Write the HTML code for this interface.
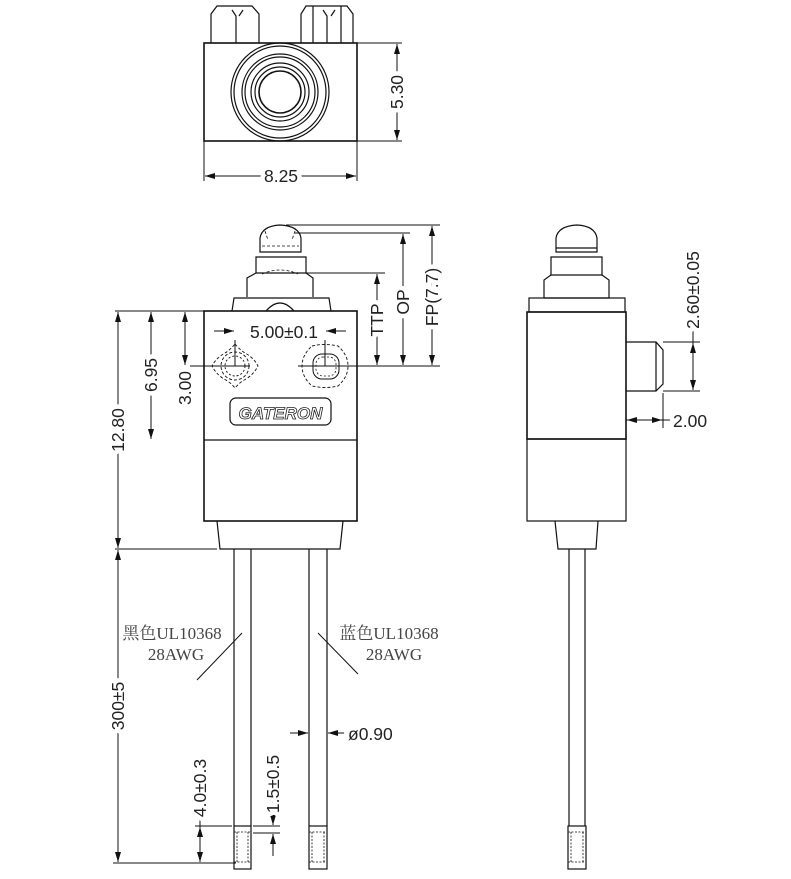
<!DOCTYPE html>
<html><head><meta charset="utf-8"><style>
html,body{margin:0;padding:0;background:#fff}
svg{display:block}
text{font-family:"Liberation Sans","Noto Sans CJK SC",sans-serif;fill:#222}
.h{paint-order:stroke;stroke:#fff;stroke-width:9px;stroke-linejoin:round}
.c{font-family:"Liberation Serif","Noto Serif CJK SC",serif;fill:#444}
</style></head><body>
<svg width="791" height="879" viewBox="0 0 791 879" xmlns="http://www.w3.org/2000/svg">
<defs>
<marker id="a" viewBox="0 0 10 6" refX="10" refY="3" markerWidth="10" markerHeight="6" orient="auto-start-reverse" markerUnits="userSpaceOnUse"><path d="M0,0 L10,3 L0,6 z" fill="#111"/></marker>
</defs>
<g fill="none" stroke="#111" stroke-width="1.2">
<path d="M211,43 V14 L217,6 H252 L259,14 V43"/>
<path d="M232,10 L236,16 V43 M239,16 L243,10"/>
<path d="M301,43 V14 L306,6 H347 L353,14 V43"/>
<path d="M313,6 V43 M323,10 L327,16 V43 M331,16 L335,10 M341,6 V43"/>
<rect x="204" y="43" width="153" height="98" stroke-width="1.6"/>
<circle cx="280" cy="92" r="49"/><circle cx="280" cy="92" r="46"/>
<circle cx="280" cy="92" r="38"/><circle cx="280" cy="92" r="35"/>
<circle cx="280" cy="92" r="29"/><circle cx="280" cy="92" r="25"/>
<circle cx="280" cy="92" r="21" stroke-width="1.6"/>
<path d="M357,43 H402 M357,141 H402 M204,141 V181 M357,141 V181" stroke-width="1"/>
<path d="M397,44 V140 M205,176 H356" stroke-width="1"/>

<path d="M260,252 V238 Q262,226 280,225 Q299,226 301,238 V252 Z"/>
<path d="M262,246 H299 M265,231 L268,240 M295,231 L292,240" stroke-width="0.8" stroke-dasharray="3,2"/>
<path d="M256,257 H306 V273 H256 Z"/>
<path d="M247,297 V278 L256,273 M306,273 L313,278 V297"/>
<path d="M262,274 Q280,266 298,274" stroke-dasharray="3,2" stroke-width="0.8"/>
<path d="M232,311 L234,298 H329 L331,311"/>
<path d="M266,311 Q280,295 294,311"/>
<rect x="204" y="311" width="153" height="210" stroke-width="1.6"/>
<path d="M204,440 H357"/>
<path d="M217,521 L220,549 H340 L343,521 M234,549 V826 M251,549 V826 M309,549 V826 M327,549 V826"/>
<path d="M235,344 Q240,350 245,353 Q254,358 258,366 Q254,374 246,379 Q240,382 235,388 Q230,382 224,379 Q216,374 212,366 Q216,358 225,353 Q230,350 235,344 Z" stroke-dasharray="3,2" stroke-width="0.9"/>
<circle cx="235" cy="366" r="14" stroke-dasharray="3,2" stroke-width="0.9"/>
<circle cx="235" cy="366" r="10" stroke-dasharray="2,2" stroke-width="0.9"/>
<path d="M312,346 Q325,343 338,346 Q348,355 348,366 Q348,377 338,386 Q325,389 312,386 Q302,377 302,366 Q302,355 312,346 Z" stroke-dasharray="3,2" stroke-width="0.9"/>
<rect x="313" y="354" width="26" height="25" rx="9" stroke-width="1"/>
<rect x="316" y="357" width="20" height="19" rx="7" stroke-dasharray="2,2" stroke-width="0.8"/>
<rect x="230" y="398" width="101" height="27" rx="6"/>
<g stroke-width="1">
<path d="M115,311 H205 M115,549 H217 M113,863 H236"/>
<path d="M235,340 V366 M190,366 H250 M325,340 V366 M298,366 H360 M306,366 H440"/>
<path d="M286,225 H440 M295,233 H410 M290,273 H385"/>
<path d="M118,312 V548 M151,312 V439 M185,312 V365"/>
<path d="M118,550 V862"/>
<path d="M377,274 V365 M403,234 V365 M432,226 V365"/>
<path d="M214,331 H234 M346,331 H326"/>
<path d="M200,766 V862 M273,766 V825 M273,834 V856 M290,733 H308 M344,733 H328"/>
</g>
<path d="M195,826 H232 M253,826 H280 M253,833 H280" stroke-width="1"/>
<path d="M242,633 L197,680 M318,633 L358,674" stroke-width="1"/>
<rect x="234" y="826" width="17" height="43"/><path d="M234,832 H251 M237,832 V862 M248,832 V862 M234,862 H251" stroke-dasharray="2,1.5" stroke-width="0.8"/>
<rect x="309" y="826" width="18" height="43"/><path d="M309,832 H327 M312,832 V862 M324,832 V862 M309,862 H327" stroke-dasharray="2,1.5" stroke-width="0.8"/>

<path d="M556,252 V238 Q558,226 577,225 Q595,226 597,238 V252 Z"/>
<path d="M556,248 H597"/>
<path d="M551,257 H602 V275 H551 Z"/>
<path d="M544,298 V280 L551,275 M602,275 L609,280 V298 H544"/>
<rect x="529" y="298" width="96" height="14"/>
<rect x="527" y="312" width="99" height="127" stroke-width="1.6"/>
<rect x="527" y="439" width="99" height="82"/>
<path d="M626,342 H656 L663,350 V384 L656,391 H626 M656,342 V391"/>
<path d="M555,521 L558,549 H596 L598,521 M569,549 V826 M585,549 V826"/>
<rect x="568" y="826" width="18" height="43"/><path d="M568,832 H586 M571,832 V862 M583,832 V862 M568,862 H586" stroke-dasharray="2,1.5" stroke-width="0.8"/>
<g stroke-width="1">
<path d="M663,342 H700 M663,391 H700 M663,393 V428"/>
<path d="M693,300 V390 M626,420 H672"/>
</g>
</g>
<g stroke="#111" stroke-width="1" fill="none" marker-end="url(#a)">
<path d="M397,60 V44"/><path d="M397,125 V140"/>
<path d="M220,176 H205"/><path d="M340,176 H356"/>
<path d="M118,330 V312"/><path d="M118,530 V548"/>
<path d="M151,330 V312"/><path d="M151,420 V439"/>
<path d="M185,330 V312"/><path d="M185,350 V365"/>
<path d="M118,570 V550"/><path d="M118,845 V862"/>
<path d="M377,290 V274"/><path d="M377,350 V365"/>
<path d="M403,250 V234"/><path d="M403,350 V365"/>
<path d="M432,240 V226"/><path d="M432,350 V365"/>
<path d="M220,331 H234"/><path d="M340,331 H326"/>
<path d="M200,845 V827"/><path d="M200,845 V862"/>
<path d="M273,812 V825"/><path d="M273,850 V834"/>
<path d="M295,733 H308"/><path d="M340,733 H328"/>
<path d="M693,360 V343"/><path d="M693,375 V390"/>
<path d="M645,420 H627"/><path d="M645,420 H662"/>
</g>
<g font-size="17.5">
<text class="h" x="281" y="182" text-anchor="middle">8.25</text>
<text class="h" transform="translate(403,92) rotate(-90)" text-anchor="middle">5.30</text>
<text class="h" x="284" y="338" text-anchor="middle">5.00±0.1</text>
<text class="h" transform="translate(124,430) rotate(-90)" text-anchor="middle">12.80</text>
<text class="h" transform="translate(157,375) rotate(-90)" text-anchor="middle">6.95</text>
<text class="h" transform="translate(191,388) rotate(-90)" text-anchor="middle">3.00</text>
<text class="h" transform="translate(383,320) rotate(-90)" text-anchor="middle">TTP</text>
<text class="h" transform="translate(409,302) rotate(-90)" text-anchor="middle">OP</text>
<text class="h" transform="translate(438,297) rotate(-90)" text-anchor="middle">FP(7.7)</text>
<text class="h" transform="translate(124,706) rotate(-90)" text-anchor="middle">300±5</text>
<text class="h" transform="translate(206,788) rotate(-90)" text-anchor="middle">4.0±0.3</text>
<text class="h" transform="translate(279,784) rotate(-90)" text-anchor="middle">1.5±0.5</text>
<text x="348" y="740">ø0.90</text>
<text class="h" transform="translate(699,290) rotate(-90)" text-anchor="middle">2.60±0.05</text>
<text class="h" x="673" y="427">2.00</text>
</g>
<text x="280.5" y="419" font-size="17" font-style="italic" font-weight="bold" text-anchor="middle" stroke="#222" stroke-width="0.8" style="fill:none">GATERON</text>
<text class="c" x="172" y="639" font-size="17" text-anchor="middle">黑色UL10368</text>
<text class="c" x="176" y="660" font-size="17" text-anchor="middle">28AWG</text>
<text class="c" x="389" y="639" font-size="17" text-anchor="middle">蓝色UL10368</text>
<text class="c" x="394" y="660" font-size="17" text-anchor="middle">28AWG</text>
</svg>
</body></html>
